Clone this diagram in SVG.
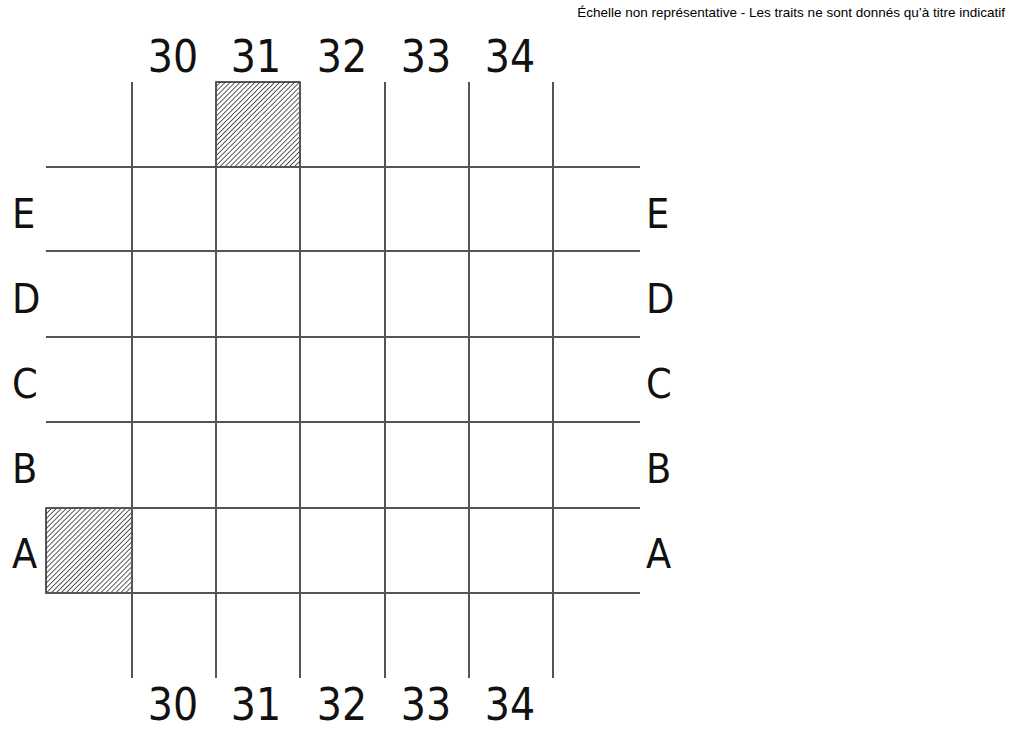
<svg xmlns="http://www.w3.org/2000/svg" width="1024" height="729" viewBox="0 0 1024 729">
<style>
.g{stroke:#555;stroke-width:2;fill:none}
.lbl{font-family:"DejaVu Sans Condensed","DejaVu Sans",sans-serif;font-stretch:condensed;font-size:44px;fill:#111}
.row{font-family:"DejaVu Sans Condensed","DejaVu Sans",sans-serif;font-stretch:condensed;font-size:41px;fill:#111}
.note{font-family:"Liberation Sans",Arial,sans-serif;font-size:13.5px;fill:#000}
.h{fill:url(#hatch);stroke:#222;stroke-width:1.5}
</style>
<defs>
<pattern id="hatch" patternUnits="userSpaceOnUse" width="3.5" height="3.5" patternTransform="rotate(45)">
<rect width="3.5" height="3.5" fill="#fff"/>
<line x1="0" y1="0" x2="0" y2="3.5" stroke="#333" stroke-width="1.6"/>
</pattern>
</defs>
<rect width="1024" height="729" fill="#fff"/>
<text class="note" x="1005" y="17" text-anchor="end">Échelle non représentative - Les traits ne sont donnés qu’à titre indicatif</text>
<g id="hatched">
<rect id="cell-31-top" class="h" x="216" y="82" width="84" height="85"/>
<rect id="cell-A-left" class="h" x="46" y="508" width="86" height="85"/>
</g>
<g id="grid">
<line class="g" x1="132" y1="82" x2="132" y2="678"/>
<line class="g" x1="216" y1="82" x2="216" y2="678"/>
<line class="g" x1="300" y1="82" x2="300" y2="678"/>
<line class="g" x1="385" y1="82" x2="385" y2="678"/>
<line class="g" x1="469" y1="82" x2="469" y2="678"/>
<line class="g" x1="553" y1="82" x2="553" y2="678"/>
<line class="g" x1="46" y1="167" x2="640" y2="167"/>
<line class="g" x1="46" y1="251" x2="640" y2="251"/>
<line class="g" x1="46" y1="337" x2="640" y2="337" stroke="#333"/>
<line class="g" x1="46" y1="422" x2="640" y2="422"/>
<line class="g" x1="46" y1="508" x2="640" y2="508" stroke="#333"/>
<line class="g" x1="46" y1="593" x2="640" y2="593"/>
</g>
<g id="top-labels" class="lbl" text-anchor="middle">
<text x="173" y="72">30</text>
<text x="256" y="72">31</text>
<text x="342" y="72">32</text>
<text x="426" y="72">33</text>
<text x="510" y="72">34</text>
</g>
<g id="bottom-labels" class="lbl" text-anchor="middle">
<text x="173" y="720">30</text>
<text x="256" y="720">31</text>
<text x="342" y="720">32</text>
<text x="426" y="720">33</text>
<text x="510" y="720">34</text>
</g>
<g id="left-labels" class="row">
<text x="12" y="228">E</text>
<text x="12" y="313">D</text>
<text x="12" y="398">C</text>
<text x="12" y="483">B</text>
<text x="12" y="568">A</text>
</g>
<g id="right-labels" class="row">
<text x="646" y="228">E</text>
<text x="646" y="313">D</text>
<text x="646" y="398">C</text>
<text x="646" y="483">B</text>
<text x="646" y="568">A</text>
</g>
</svg>
